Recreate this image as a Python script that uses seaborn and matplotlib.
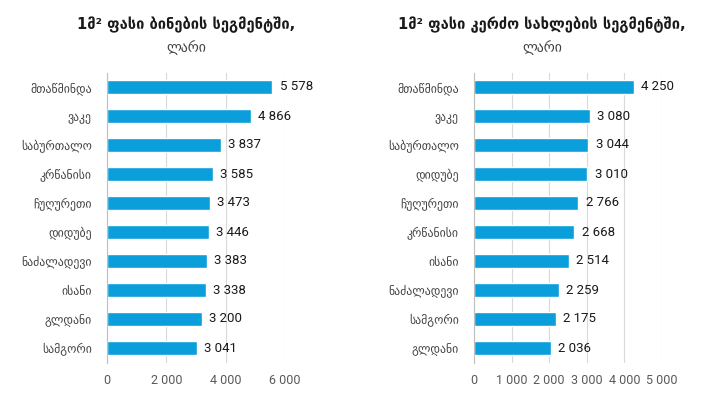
import matplotlib
matplotlib.use("Agg")
import matplotlib.pyplot as plt
import seaborn as sns
import pandas as pd

# price per m2, GEL
flat_districts = ["მთაწმინდა", "ვაკე", "საბურთალო", "კრწანისი", "ჩუღურეთი",
                  "დიდუბე", "ნაძალადევი", "ისანი", "გლდანი", "სამგორი"]
flat_prices = [5578, 4866, 3837, 3585, 3473, 3446, 3383, 3338, 3200, 3041]
flat_ticks = [0, 2000, 4000, 6000]

house_districts = ["მთაწმინდა", "ვაკე", "საბურთალო", "დიდუბე", "ჩუღურეთი",
                   "კრწანისი", "ისანი", "ნაძალადევი", "სამგორი", "გლდანი"]
house_prices = [4250, 3080, 3044, 3010, 2766, 2668, 2514, 2259, 2175, 2036]
house_ticks = [0, 1000, 2000, 3000, 4000, 5000]

titles = ["1მ² ფასი ბინების სეგმენტში,", "1მ² ფასი კერძო სახლების სეგმენტში,"]
unit = "ლარი"

BAR = "#0a9fdb"
W, H = 706, 398
NUM_FONT = ["Roboto", "DejaVu Sans"]


def fmt(v):
    return f"{v:,.0f}".replace(",", " ")


sns.set_theme(style="white")
plt.rcParams["font.family"] = ["DejaVu Sans"]

fig = plt.figure(figsize=(W / 100, H / 100), dpi=100)

panels = [
    (flat_districts, flat_prices, flat_ticks, 107, 285, 186),
    (house_districts, house_prices, house_ticks, 474, 662, 542),
]

for i, (cats, vals, ticks, x0, x1, tx) in enumerate(panels):
    ax = fig.add_axes([x0 / W, 1 - 362.5 / H, (x1 - x0) / W, 290 / H])
    df = pd.DataFrame({"district": cats, "price": vals})
    sns.barplot(data=df, y="district", x="price", orient="h", color=BAR,
                width=0.45, saturation=1, ax=ax)
    ax.set_xlim(0, ticks[-1])
    ax.set_xticks(ticks)
    ax.set_xticklabels([fmt(t) for t in ticks], family=NUM_FONT)
    ax.set_xlabel("")
    ax.set_ylabel("")
    ax.grid(True, axis="x", color="#d9d9d9", linewidth=0.8)
    ax.set_axisbelow(True)
    for s in ("top", "right", "bottom"):
        ax.spines[s].set_visible(False)
    ax.spines["left"].set_color("#bfbfbf")
    ax.spines["left"].set_linewidth(0.8)
    ax.tick_params(axis="x", length=5, width=0.8, color="#d9d9d9",
                   labelsize=9, labelcolor="#595959", pad=3)
    ax.tick_params(axis="y", length=0, labelsize=8.5, labelcolor="#404040", pad=11)
    for j, v in enumerate(vals):
        ax.text(v + ticks[-1] * 0.04, j, fmt(v), va="center", ha="left",
                fontsize=9.5, color="#1a1a1a", family=NUM_FONT)
    fig.text(tx / W, 1 - 25 / H, titles[i], ha="center", va="center",
             fontsize=10.5, fontweight="bold", color="#1a1a1a")
    fig.text(tx / W, 1 - 48 / H, unit, ha="center", va="center",
             fontsize=10, color="#404040")

fig.savefig("out.png", dpi=100)
